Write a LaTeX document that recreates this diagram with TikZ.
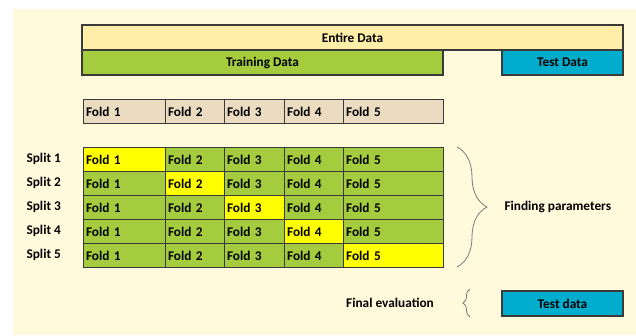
\documentclass[tikz,border=0pt]{standalone}
\usepackage{fontspec}
\setmainfont{Carlito}
\usetikzlibrary{positioning, decorations.pathreplacing}
\definecolor{cbg}{HTML}{FFFADC}
\definecolor{centire}{HTML}{FFEEA8}
\definecolor{cgreen}{HTML}{A4CC3E}
\definecolor{ctest}{HTML}{00ADCC}
\definecolor{cfold}{HTML}{EADBC1}
\definecolor{cyel}{HTML}{FFFF00}
\definecolor{cline}{HTML}{3A3A3A}
\definecolor{cbrace}{HTML}{7A7A7A}
\tikzset{
  every picture/.style={font=\fontsize{13.3}{15}\selectfont\bfseries, line width=1.1pt},
  bar/.style={draw=cline, fill=#1, minimum height=25pt, inner sep=0pt},
  cell/.style={draw=cline, fill=#1, minimum height=24pt, inner xsep=2.5pt, inner ysep=0pt, align=left, anchor=north west},
  label/.style={inner sep=0pt},
  curly/.style={decorate, draw=cbrace, line width=0.8pt, decoration={brace, amplitude=#1}},
}
\begin{document}
\begin{tikzpicture}[x=1pt, y=-1pt]
  \useasboundingbox (0,0) rectangle (636,335);
  \fill[cbg] (13,9) rectangle (636,335);
  % data split bars
  \node[bar=centire, minimum width=541pt] (entire) at (352.5,37.5) {Entire Data};
  \node[bar=cgreen, minimum width=361pt] (train) at (262.5,62.5) {Training Data};
  \node[bar=ctest, minimum width=121pt] (test) at (562.5,62.5) {Test Data};
  % fold header
  \foreach \c/\x/\w in {1/83/82,2/165/59,3/224/60,4/284/59,5/343/100} {
    \node[cell=cfold, text width=\w pt-5pt] (h\c) at (\x,99) {Fold \c};
  }
  % splits
  \foreach \s in {1,...,5} {
    \node[label, anchor=west] (split\s) at (26,147+24*\s-12) {Split \s};
    \foreach \c/\x/\w in {1/83/82,2/165/59,3/224/60,4/284/59,5/343/100} {
      \ifnum\c=\s \def\fc{cyel}\else\def\fc{cgreen}\fi
      \node[cell=\fc, text width=\w pt-5pt] (s\s-\c) at (\x,147+24*\s-24) {Fold \c};
    }
  }
  % braces and notes
  \coordinate (bt) at (457,147);
  \coordinate (bb) at (457,267);
  \draw[curly=30pt] (bt) -- (bb);
  \node[label, anchor=west] (find) at (504,207) {Finding parameters};
  \node[label] (final) at (390,303) {Final evaluation};
  \coordinate (st) at (470,289);
  \coordinate (sb) at (470,317);
  \draw[curly=7pt] (sb) -- (st);
  \node[bar=ctest, minimum width=121pt] (testb) at (562.5,303.5) {Test data};
\end{tikzpicture}
\end{document}
